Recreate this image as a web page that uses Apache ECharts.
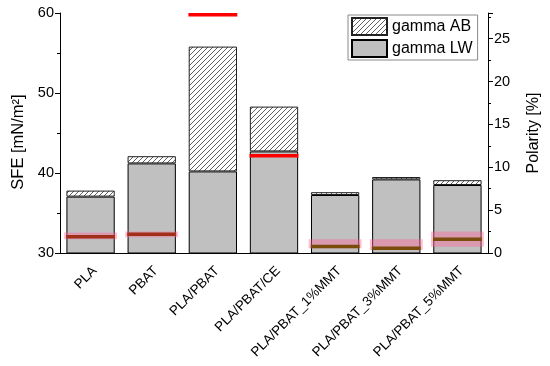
<!DOCTYPE html>
<html>
<head>
<meta charset="utf-8">
<script src="https://cdn.jsdelivr.net/npm/echarts@6/dist/echarts.min.js"></script>
<style>html,body{margin:0;padding:0;background:#fff}#c{width:550px;height:366px}</style>
</head>
<body>
<div id="c"></div>
<script>
// ---- data ----
const categories = ['PLA','PBAT','PLA/PBAT','PLA/PBAT/CE','PLA/PBAT_1%MMT','PLA/PBAT_3%MMT','PLA/PBAT_5%MMT'];
const gammaLW = [37.05, 41.2, 40.2, 42.7, 37.25, 39.2, 38.5];
const gammaTotal = [37.8, 42.1, 55.8, 48.3, 37.6, 39.5, 39.1];
const gammaAB = gammaTotal.map((t, i) => +(t - gammaLW[i]).toFixed(2));
const polarity = [1.91, 2.19, 27.8, 11.36, 0.77, 0.55, 1.6];
const polarityLow = [1.6, 1.84, null, null, 0.55, 0.35, 0.74];
const polarityHigh = [2.38, 2.5, null, null, 1.6, 1.6, 2.5];
const sfeTicks = {min: 30, max: 60, interval: 10};
const polTicks = {min: 0, max: 28, interval: 5};
// styles
const lineColors = ['#a0301a', '#a0301a', '#ff0000', '#ff0000', '#7a4c0c', '#7a4c0c', '#7a4c0c'];

// hatch pattern
function makeHatch() {
  const s = 5;
  const cv = document.createElement('canvas');
  cv.width = s; cv.height = s;
  const ctx = cv.getContext('2d');
  ctx.fillStyle = '#ffffff';
  ctx.fillRect(0, 0, s, s);
  ctx.strokeStyle = '#606060';
  ctx.lineWidth = 1;
  ctx.beginPath();
  ctx.moveTo(-1, s + 1); ctx.lineTo(s + 1, -1);
  ctx.moveTo(-1, 1); ctx.lineTo(1, -1);
  ctx.moveTo(s - 1, s + 1); ctx.lineTo(s + 1, s - 1);
  ctx.stroke();
  return cv;
}
const hatch = {image: makeHatch(), repeat: 'repeat'};

const font = "'Liberation Sans', Arial, sans-serif";
const chart = echarts.init(document.getElementById('c'), null, {renderer: 'canvas'});
const polData = categories.map((c, i) => [i, polarity[i], polarityLow[i], polarityHigh[i]]);

chart.setOption({
  animation: false,
  textStyle: {fontFamily: font, color: '#000'},
  grid: {left: 60, right: 57, top: 13, bottom: 113},
  legend: {
    orient: 'vertical', left: 348, top: 15,
    padding: [2, 5, 2, 3], itemGap: 3,
    itemWidth: 35, itemHeight: 17, icon: 'rect',
    borderColor: '#888', borderWidth: 1,
    textStyle: {fontFamily: font, fontSize: 16, color: '#000'},
    data: ['gamma AB', 'gamma LW']
  },
  xAxis: [{
    type: 'category', data: categories, position: 'bottom',
    axisLine: {lineStyle: {color: '#000', width: 1}},
    axisTick: {alignWithLabel: true, length: 5, interval: 0, lineStyle: {color: '#000'}},
    axisLabel: {rotate: 45, interval: 0, fontSize: 13.5, color: '#000', fontFamily: font, margin: 20, padding: [0, -6, 0, 0]}
  }, {
    type: 'category', data: categories, position: 'bottom',
    axisLine: {show: false},
    axisTick: {length: 3, interval: 0, lineStyle: {color: '#000'}},
    axisLabel: {show: false}
  }],
  yAxis: [{
    type: 'value', min: sfeTicks.min, max: sfeTicks.max, interval: sfeTicks.interval,
    name: 'SFE [mN/m²]', nameLocation: 'middle', nameGap: 33, nameRotate: 90,
    nameTextStyle: {fontSize: 16.5, color: '#000', fontFamily: font, padding: [0, 18, 0, 0]},
    axisLine: {show: true, lineStyle: {color: '#000'}},
    axisTick: {show: true, length: 5, lineStyle: {color: '#000'}},
    minorTick: {show: true, splitNumber: 2, length: 3, lineStyle: {color: '#000'}},
    splitLine: {show: false},
    axisLabel: {fontSize: 14.5, color: '#000', fontFamily: font, margin: 6}
  }, {
    type: 'value', min: polTicks.min, max: polTicks.max, interval: polTicks.interval,
    position: 'right',
    name: 'Polarity [%]', nameLocation: 'middle', nameGap: 38, nameRotate: 90,
    nameTextStyle: {fontSize: 16, color: '#000', fontFamily: font},
    axisLine: {show: true, lineStyle: {color: '#000'}},
    axisTick: {show: true, length: 5, lineStyle: {color: '#000'}},
    minorTick: {show: true, splitNumber: 2, length: 3, lineStyle: {color: '#000'}},
    splitLine: {show: false},
    axisLabel: {fontSize: 14.5, color: '#000', fontFamily: font, margin: 6, showMaxLabel: false}
  }],
  series: [{
    name: 'gamma LW', type: 'bar', stack: 'sfe', data: gammaLW,
    barCategoryGap: '21%',
    itemStyle: {color: '#c0c0c0', borderColor: '#000', borderWidth: 1}
  }, {
    name: 'gamma AB', type: 'bar', stack: 'sfe', data: gammaAB,
    barCategoryGap: '21%',
    itemStyle: {color: hatch, borderColor: '#222', borderWidth: 1}
  }, {
    name: 'polarity', type: 'custom', yAxisIndex: 1, data: polData, z: 5,
    renderItem: function (params, api) {
      const i = api.value(0);
      const c = api.coord([i, api.value(1)]);
      const w = api.size([1, 0])[0] * 0.8;
      const children = [];
      const lo = polarityLow[i], hi = polarityHigh[i];
      if (lo != null && hi != null) {
        const a = api.coord([i, lo]), b = api.coord([i, hi]);
        children.push({type: 'rect', shape: {x: c[0] - w / 2 - 2, y: b[1], width: w + 4, height: a[1] - b[1]},
          style: {fill: 'rgba(255,100,150,0.42)'}});
      }
      children.push({type: 'rect', shape: {x: c[0] - w / 2, y: c[1] - 1.75, width: w, height: 3.5},
        style: {fill: lineColors[i]}});
      return {type: 'group', children: children};
    }
  }]
});
</script>
</body>
</html>
